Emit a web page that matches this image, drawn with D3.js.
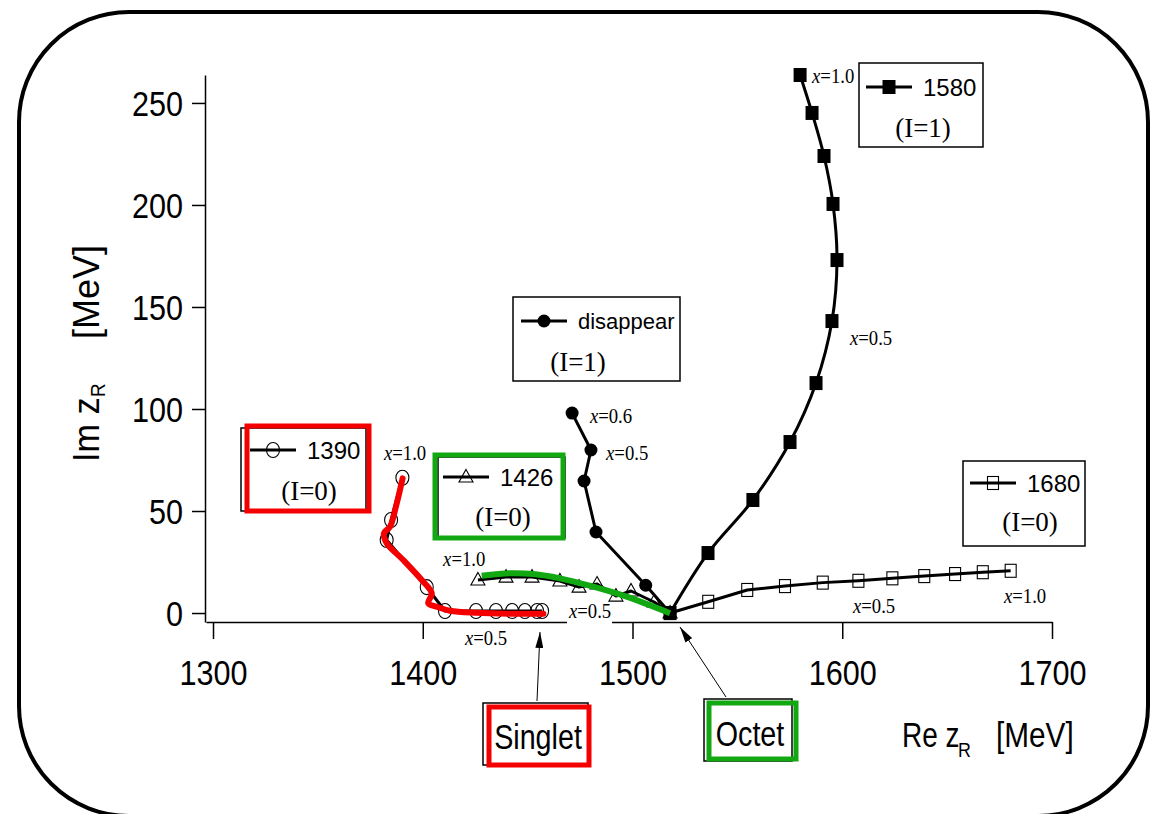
<!DOCTYPE html>
<html>
<head>
<meta charset="utf-8">
<script src="https://cdn.jsdelivr.net/npm/d3@7"></script>
<style>
  body { margin: 0; background: #fff; }
</style>
</head>
<body>
<svg id="chart" width="1155" height="814"></svg>
<script>
// axis ticks
const xTicks = [1300, 1400, 1500, 1600, 1700];
const yTicks = [0, 50, 100, 150, 200, 250];

// pole trajectories (Re z_R, Im z_R in MeV)
const re1580 = [1579.9, 1585.6, 1591.3, 1595.6, 1597.5, 1595.1, 1587.5, 1575.1, 1557.4, 1536.0, 1517.9];
const im1580 = [263.7, 245.1, 224.0, 200.5, 173.0, 143.1, 112.7, 83.8, 55.4, 29.4, 0.0];

const reDisappear = [1471.2, 1480.2, 1476.9, 1482.6, 1506.3, 1517.9];
const imDisappear = [98.0, 79.9, 64.7, 39.7, 13.6, 0.0];

const re1390 = [1390.3, 1384.9, 1382.8, 1401.9, 1410.6, 1425.4, 1434.9, 1442.6, 1448.7, 1454.5, 1456.9];
const im1390 = [66.3, 45.6, 35.8, 12.7, 1.0, 1.0, 1.0, 1.0, 1.0, 1.0, 1.0];

const re1426 = [1426.3, 1439.7, 1452.1, 1465.4, 1474.5, 1483.1, 1492.1, 1499.3, 1510.3, 1517.9];
const im1426 = [16.2, 17.6, 17.6, 15.7, 12.7, 14.2, 8.3, 10.8, 5.4, 0.0];

const re1680 = [1517.9, 1536.1, 1554.7, 1572.7, 1590.7, 1607.7, 1623.9, 1639.1, 1653.8, 1667.0, 1680.3];
const im1680 = [0.0, 5.5, 11.3, 13.2, 14.9, 15.8, 17.0, 18.1, 19.1, 20.0, 20.7];

// hand drawn overlays: singlet (red) and octet (green) limits
const reSinglet = [1390.4, 1387.2, 1384.4, 1381.5, 1382.8, 1390.7, 1399.5, 1404.3, 1402.6, 1406.6, 1413.0, 1425.7, 1441.6, 1457.5];
const imSinglet = [66.0, 52.1, 42.3, 39.1, 34.2, 26.0, 16.2, 9.7, 4.8, 3.1, 1.1, 0.1, -0.3, -0.3];
const reOctet = [1428.1, 1441.6, 1452.7, 1465.4, 1481.3, 1497.2, 1517.9];
const imOctet = [18.3, 19.5, 19.1, 17.0, 12.9, 8.0, -0.1];

const SANS = "'Liberation Sans', Arial, Helvetica, sans-serif";
const SERIF = "'Liberation Serif', 'Times New Roman', serif";
const RED = '#f40000';
const GREEN = '#12a812';

const svg = d3.select('#chart');

const x = d3.scaleLinear().domain([1296.66, 1700]).range([206, 1052]);
const y = d3.scaleLinear().domain([-4.4, 263.7]).range([622, 75]);

// text with a horizontal squeeze, the original font is a narrow one
function txt(g, px, py, str, size, family, sx, anchor) {
  return g.append('text')
    .attr('transform', `translate(${px},${py}) scale(${sx},1)`)
    .attr('text-anchor', anchor || 'start')
    .attr('dominant-baseline', 'central')
    .attr('font-size', size)
    .attr('font-family', family)
    .attr('fill', '#000')
    .text(str);
}

function mark(g, type, cx, cy) {
  if (type === 'fsq') {
    g.append('rect').attr('x', cx - 6.5).attr('y', cy - 7).attr('width', 13).attr('height', 14).attr('fill', '#000');
  } else if (type === 'fci') {
    g.append('circle').attr('cx', cx).attr('cy', cy).attr('r', 6.5).attr('fill', '#000');
  } else if (type === 'oci') {
    g.append('ellipse').attr('cx', cx).attr('cy', cy).attr('rx', 6.5).attr('ry', 7.5)
      .attr('fill', 'none').attr('stroke', '#000').attr('stroke-width', 1.1);
  } else if (type === 'osq') {
    g.append('rect').attr('x', cx - 5.5).attr('y', cy - 6.5).attr('width', 11).attr('height', 13)
      .attr('fill', 'none').attr('stroke', '#000').attr('stroke-width', 1.1);
  } else if (type === 'otr') {
    g.append('path').attr('d', `M${cx},${cy - 7.5}L${cx + 7},${cy + 5}L${cx - 7},${cy + 5}Z`)
      .attr('fill', 'none').attr('stroke', '#000').attr('stroke-width', 1.1);
  }
}

// rounded frame
svg.append('rect')
  .attr('x', 19).attr('y', 12).attr('width', 1129).attr('height', 804).attr('rx', 110)
  .attr('fill', 'none').attr('stroke', '#000').attr('stroke-width', 4);

/* axes */
const gx = svg.append('g')
  .attr('transform', 'translate(0,622)')
  .call(d3.axisBottom(x).tickValues(xTicks).tickSize(17).tickSizeOuter(0).tickFormat(d3.format('d')))
  .attr('font-size', null).attr('font-family', null);
gx.select('.domain').attr('stroke-width', 1.5);
gx.selectAll('.tick line').attr('stroke-width', 1.5);
gx.selectAll('.tick text')
  .attr('y', 50).attr('dy', '0.35em')
  .attr('font-size', 36).attr('font-family', SANS).attr('fill', '#000')
  .attr('transform', 'scale(0.85,1)');

const gy = svg.append('g')
  .attr('transform', 'translate(205,0)')
  .call(d3.axisLeft(y).tickValues(yTicks).tickSize(13).tickSizeOuter(0))
  .attr('font-size', null).attr('font-family', null);
gy.select('.domain').attr('stroke-width', 1.5);
gy.selectAll('.tick line').attr('stroke-width', 1.5);
gy.selectAll('.tick text')
  .attr('x', -22 / 0.85).attr('dy', '0.35em')
  .attr('font-size', 36).attr('font-family', SANS).attr('fill', '#000')
  .attr('transform', 'scale(0.85,1)');

// axis titles
txt(svg, 902, 735, 'Re z', 35, SANS, 0.8);
txt(svg, 958, 749, 'R', 21, SANS, 0.85);
txt(svg, 996, 735, '[MeV]', 35, SANS, 0.85);

const yl = svg.append('g').attr('transform', 'translate(86,0) rotate(-90)');
txt(yl, -462, 0, 'Im z', 36, SANS, 0.95);
txt(yl, -397, 12, 'R', 21, SANS, 0.9);
txt(yl, -339, 0, '[MeV]', 36, SANS, 1.0);

// white patch behind one of the x labels (cuts the axis line in the original)
svg.append('rect').attr('x', 567).attr('y', 603).attr('width', 45).attr('height', 24).attr('fill', '#fff');

/* trajectories */
const line = d3.line().x(d => x(d[0])).y(d => y(d[1]));
const smooth = d3.line().x(d => x(d[0])).y(d => y(d[1])).curve(d3.curveCatmullRom);

const series = [
  { re: re1390, im: im1390, m: 'oci', curve: line },
  { re: re1426, im: im1426, m: 'otr', curve: line },
  { re: re1680, im: im1680, m: 'osq', curve: line },
  { re: reDisappear, im: imDisappear, m: 'fci', curve: line },
  { re: re1580, im: im1580, m: 'fsq', curve: smooth }
];

const gl = svg.append('g');
series.forEach(s => {
  const pts = d3.zip(s.re, s.im);
  gl.append('path').attr('d', s.curve(pts))
    .attr('fill', 'none').attr('stroke', '#000').attr('stroke-width', 3).attr('stroke-linejoin', 'round');
  pts.forEach(p => mark(gl, s.m, x(p[0]), y(p[1])));
});

svg.append('path').attr('d', smooth(d3.zip(reSinglet, imSinglet)))
  .attr('fill', 'none').attr('stroke', RED).attr('stroke-width', 6).attr('stroke-linejoin', 'round').attr('stroke-linecap', 'round');
svg.append('path').attr('d', smooth(d3.zip(reOctet, imOctet)))
  .attr('fill', 'none').attr('stroke', GREEN).attr('stroke-width', 6).attr('stroke-linecap', 'butt');

// x = ... annotations, placed in data units
const notes = [
  ['1.0', 1585.6, 263.7], ['0.5', 1603.7, 135.3],
  ['0.6', 1479.7, 96.6], ['0.5', 1487.4, 78.6],
  ['1.0', 1381.5, 78.9], ['0.5', 1420.1, -11.8],
  ['1.0', 1409.7, 26.5], ['0.5', 1469.7, 1.5],
  ['0.5', 1605.1, 3.9], ['1.0', 1677.1, 8.8]
];
notes.forEach(n => {
  const t = txt(svg, x(n[1]), y(n[2]), '', 22, SERIF, 0.85);
  t.append('tspan').attr('font-style', 'italic').text('x');
  t.append('tspan').text('=' + n[0]);
});

/* legend boxes */
function box(bx, by, bw, bh, color, sw) {
  svg.append('rect').attr('x', bx).attr('y', by).attr('width', bw).attr('height', bh)
    .attr('fill', color === '#000' ? '#fff' : 'none').attr('stroke', color).attr('stroke-width', sw);
}
function entry(lx, ly, type, label, iso, isoX, isoY, size) {
  svg.append('line').attr('x1', lx).attr('x2', lx + 46).attr('y1', ly).attr('y2', ly)
    .attr('stroke', '#000').attr('stroke-width', 3);
  mark(svg, type, lx + 23, ly);
  txt(svg, lx + 57, ly, label, size || 24, SANS, 1);
  txt(svg, isoX, isoY, iso, 27, SERIF, 1, 'middle');
}

box(859, 63, 124, 84, '#000', 1.5);
entry(866, 87, 'fsq', '1580', '(I=1)', 923, 128);

box(513, 297, 167, 84, '#000', 1.5);
entry(521, 321, 'fci', 'disappear', '(I=1)', 578, 362, 22);

box(241, 428, 125, 83, '#000', 1.5);
box(247, 426, 122, 85, RED, 5);
entry(250, 450, 'oci', '1390', '(I=0)', 309, 491);

box(438, 457, 127, 81, '#000', 1.5);
box(435, 455, 128, 83, GREEN, 5);
entry(443, 477, 'otr', '1426', '(I=0)', 503, 517);

box(963, 461, 122, 85, '#000', 1.5);
entry(970, 483, 'osq', '1680', '(I=0)', 1030, 522);

/* Singlet / Octet tags with arrows */
svg.append('defs').append('marker')
  .attr('id', 'arr').attr('viewBox', '0 0 16 8').attr('refX', 16).attr('refY', 4)
  .attr('markerWidth', 16).attr('markerHeight', 8).attr('markerUnits', 'userSpaceOnUse').attr('orient', 'auto')
  .append('path').attr('d', 'M0,0L16,4L0,8Z').attr('fill', '#000');

svg.append('line').attr('x1', 537).attr('y1', 701).attr('x2', 540).attr('y2', 632)
  .attr('stroke', '#000').attr('stroke-width', 1).attr('marker-end', 'url(#arr)');
svg.append('line').attr('x1', 726).attr('y1', 697).attr('x2', 680).attr('y2', 627)
  .attr('stroke', '#000').attr('stroke-width', 1).attr('marker-end', 'url(#arr)');

box(483, 703, 105, 62, '#000', 1.5);
box(489, 707, 100, 58, RED, 5);
txt(svg, 538, 737, 'Singlet', 35, SANS, 0.82, 'middle');

box(704, 699, 88, 62, '#000', 1.5);
box(709, 703, 87, 56, GREEN, 5);
txt(svg, 750, 734, 'Octet', 35, SANS, 0.82, 'middle');
</script>
</body>
</html>
